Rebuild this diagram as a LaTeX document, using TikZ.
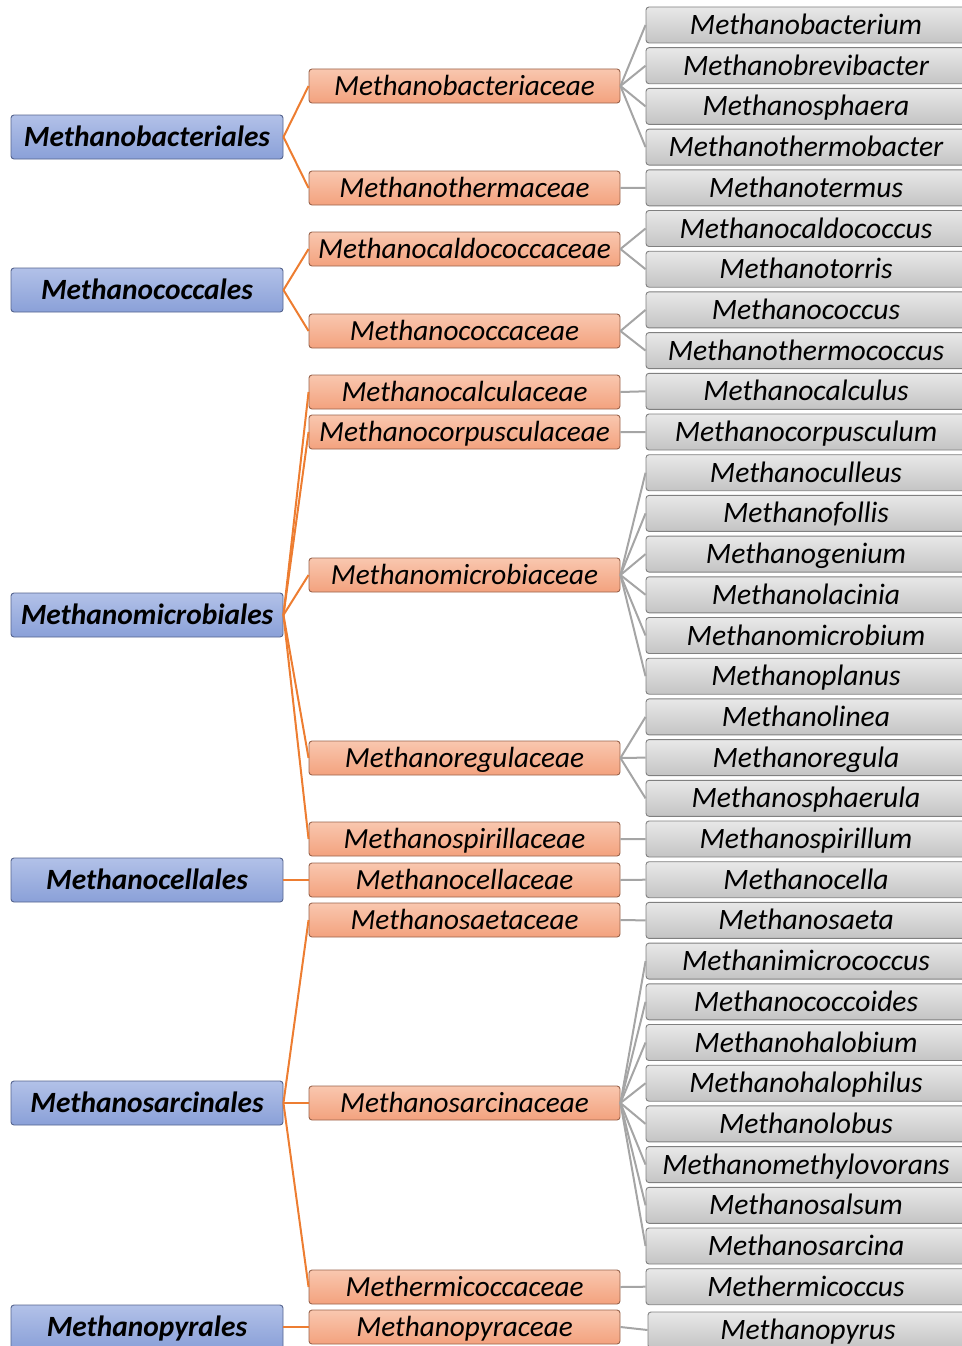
\documentclass[tikz,border=0pt]{standalone}
\usepackage{fontspec}
\setmainfont{Carlito}
\definecolor{ordtop}{HTML}{B2C1E8}
\definecolor{ordbot}{HTML}{8AA0D8}
\definecolor{ordline}{HTML}{55648E}
\definecolor{famtop}{HTML}{F9C7AF}
\definecolor{fambot}{HTML}{F3A27E}
\definecolor{famline}{HTML}{9A644C}
\definecolor{gentop}{HTML}{E8E8E8}
\definecolor{genbot}{HTML}{C4C4C4}
\definecolor{genline}{HTML}{808080}
\definecolor{orangelink}{HTML}{ED7D31}
\definecolor{graylink}{HTML}{A5A5A5}

\begin{document}
\begin{tikzpicture}[x=1pt,y=-1pt,
    order/.style={draw=ordline, line width=0.9pt, rounded corners=3pt, top color=ordtop, bottom color=ordbot,
      minimum width=272pt, minimum height=44pt, inner sep=0pt, text height=22pt, text depth=3pt,
      font=\fontsize{29.4}{31}\selectfont\bfseries\itshape},
    family/.style={draw=famline, line width=0.9pt, rounded corners=3pt, top color=famtop, bottom color=fambot,
      minimum width=311pt, minimum height=34pt, inner sep=0pt, text height=22pt, text depth=3pt,
      font=\fontsize{29.2}{31}\selectfont\itshape},
    genus/.style={draw=genline, line width=0.9pt, rounded corners=3pt, top color=gentop, bottom color=genbot,
      minimum width=320pt, minimum height=36pt, inner sep=0pt, text height=22pt, text depth=3pt,
      font=\fontsize{29.6}{31}\selectfont\itshape},
    olink/.style={draw=orangelink, line width=2pt},
    glink/.style={draw=graylink, line width=2pt}]
                    \useasboundingbox (0,0) rectangle (961,1346);
                    % genera
                    \foreach \i/\g in {0/Methanobacterium, 1/Methanobrevibacter, 2/Methanosphaera,
                        3/Methanothermobacter, 4/Methanotermus, 5/Methanocaldococcus, 6/Methanotorris,
                        7/Methanococcus, 8/Methanothermococcus, 9/Methanocalculus, 10/Methanocorpusculum,
                        11/Methanoculleus, 12/Methanofollis, 13/Methanogenium, 14/Methanolacinia,
                        15/Methanomicrobium, 16/Methanoplanus, 17/Methanolinea, 18/Methanoregula,
                        19/Methanosphaerula, 20/Methanospirillum, 21/Methanocella, 22/Methanosaeta,
                        23/Methanimicrococcus, 24/Methanococcoides, 25/Methanohalobium,
                        26/Methanohalophilus, 27/Methanolobus, 28/Methanomethylovorans,
                        29/Methanosalsum, 30/Methanosarcina, 31/Methermicoccus}
                        \node[genus] (g\i) at (806, 25+40.7*\i) {\g};
                    \node[genus] (g32) at (808,1330) {Methanopyrus};
                    % families
                    \node[family] (fbac) at (464.5,86) {Methanobacteriaceae};
                    \node[family] (fthe) at (464.5,188) {Methanothermaceae};
                    \node[family] (fcal) at (464.5,249) {Methanocaldococcaceae};
                    \node[family] (fcoc) at (464.5,331) {Methanococcaceae};
                    \node[family] (fclc) at (464.5,392) {Methanocalculaceae};
                    \node[family] (fcor) at (464.5,432) {Methanocorpusculaceae};
                    \node[family] (fmic) at (464.5,575) {Methanomicrobiaceae};
                    \node[family] (freg) at (464.5,758) {Methanoregulaceae};
                    \node[family] (fspi) at (464.5,839) {Methanospirillaceae};
                    \node[family] (fcel) at (464.5,880) {Methanocellaceae};
                    \node[family] (fsae) at (464.5,920) {Methanosaetaceae};
                    \node[family] (fsar) at (464.5,1103) {Methanosarcinaceae};
                    \node[family] (fmet) at (464.5,1287) {Methermicoccaceae};
                    \node[family] (fpyr) at (464.5,1327) {Methanopyraceae};
                    % orders
                    \node[order] (obac) at (147,137) {Methanobacteriales};
                    \node[order] (ococ) at (147,290) {Methanococcales};
                    \node[order] (omic) at (147,615) {Methanomicrobiales};
                    \node[order] (ocel) at (147,880) {Methanocellales};
                    \node[order] (osar) at (147,1103) {Methanosarcinales};
                    \node[order] (opyr) at (147,1327) {Methanopyrales};
                    % order -- family
                    \foreach \o/\fs in {obac/{fbac,fthe}, ococ/{fcal,fcoc},
                        omic/{fclc,fcor,fmic,freg,fspi}, ocel/{fcel}, osar/{fsae,fsar,fmet}, opyr/{fpyr}}
                        \foreach \f in \fs
                            \draw[olink] (\o.east) -- (\f.west);
                    % family -- genus
                    \foreach \f/\gs in {fbac/{0,1,2,3}, fthe/{4}, fcal/{5,6}, fcoc/{7,8}, fclc/{9},
                        fcor/{10}, fmic/{11,12,13,14,15,16}, freg/{17,18,19}, fspi/{20}, fcel/{21},
                        fsae/{22}, fsar/{23,24,25,26,27,28,29,30}, fmet/{31}, fpyr/{32}}
                        \foreach \g in \gs
                            \draw[glink] (\f.east) -- (g\g.west);
                \end{tikzpicture}
\end{document}
